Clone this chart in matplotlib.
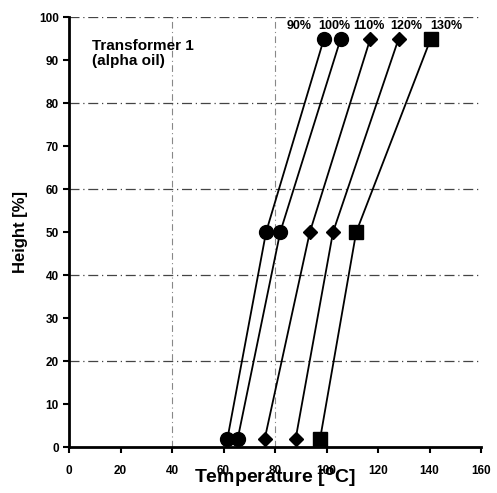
import matplotlib
matplotlib.use("Agg")
import matplotlib.pyplot as plt

heights = [2, 50, 95]
loads = ["90%", "100%", "110%", "120%", "130%"]
temps = {
    "90%":  [61.5, 76.5, 99.0],
    "100%": [65.5, 82.0, 105.5],
    "110%": [76.0, 93.5, 117.0],
    "120%": [88.0, 102.5, 128.0],
    "130%": [97.5, 111.5, 140.5],
}
markers = {"90%": "o", "100%": "o", "110%": "D", "120%": "D", "130%": "s"}
msizes = {"o": 10, "D": 7.5, "s": 9.5}
label_x = [89.5, 103, 116.5, 131, 146.5]

plt.rcParams['font.family'] = ['Liberation Sans', 'DejaVu Sans']
plt.rcParams['font.weight'] = 'bold'

fig = plt.figure(figsize=(4.97, 4.93), dpi=100)
ax = fig.add_axes([0.139, 0.093, 0.829, 0.8725])

for lx, ld in zip(label_x, loads):
    m = markers[ld]
    ax.plot(temps[ld], heights, color='black', lw=1.3, marker=m,
            markersize=msizes[m], markerfacecolor='black', markeredgecolor='black',
            clip_on=False, zorder=3)
    ax.text(lx, 97.8, ld, ha='center', va='center', fontsize=9, fontweight='bold')

ax.set_xlim(0, 160)
ax.set_ylim(0, 100)
ax.set_xticks(range(0, 161, 20))
ax.set_yticks(range(0, 101, 10))

for yv in [20, 40, 60, 80, 100]:
    ax.axhline(yv, color='#444444', lw=0.9, ls=(0, (8, 3, 1, 3)), zorder=1)
for xv in [40, 80]:
    ax.axvline(xv, color='#888888', lw=0.8, ls=(0, (6, 3, 1, 3)), zorder=1)

for s in ['top', 'right']:
    ax.spines[s].set_visible(False)
ax.spines['left'].set_linewidth(2)
ax.spines['bottom'].set_linewidth(2)
ax.tick_params(axis='both', direction='out', width=1.5, length=4, labelsize=8.5)
ax.tick_params(axis='x', pad=9)
for lab in ax.get_xticklabels() + ax.get_yticklabels():
    lab.set_fontweight('bold')

ax.text(9, 91.5, "Transformer 1\n(alpha oil)", ha='left', va='center',
        fontsize=11, fontweight='bold', linespacing=1.1)

ax.set_xlabel(r"Temperature [$^{\mathbf{o}}$C]", fontsize=14, fontweight='bold', labelpad=-9)
ax.set_ylabel("Height [%]", fontsize=12, fontweight='bold', labelpad=8)

fig.savefig("out.png", dpi=100)
